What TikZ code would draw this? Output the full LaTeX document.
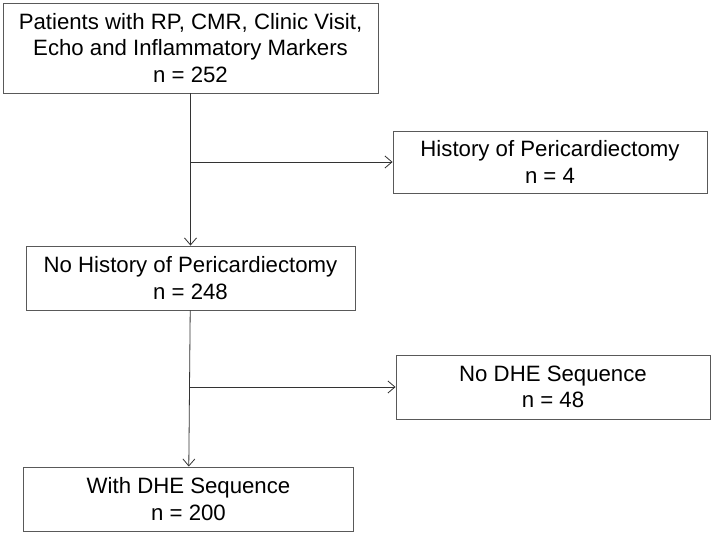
\documentclass[tikz,border=0pt]{standalone}
\usepackage{fontspec}
\setmainfont{Liberation Sans}
\usetikzlibrary{arrows.meta}

\begin{document}
\begin{tikzpicture}
[every node/.style={inner sep=0pt}, box/.style={rectangle, draw=black!65, line width=0.9pt, align=center, font=\fontsize{22.2pt}{26.6pt}\selectfont}, link/.style={line width=0.8pt, -{Straight Barb[length=7pt, width=12pt]}, color=black!80}]
\useasboundingbox (0pt, 0pt) rectangle (713pt, -534pt);
\node (patients) [box, minimum width=375pt, minimum height=90pt] at (190.5pt, -48pt) {Patients with RP, CMR, Clinic Visit,\\Echo and Inflammatory Markers\\n = 252};
\node (hist) [box, minimum width=314pt, minimum height=62pt] at (550.0pt, -162pt) {History of Pericardiectomy\\n = 4};
\node (nohist) [box, minimum width=329pt, minimum height=64pt] at (190.5pt, -278pt) {No History of Pericardiectomy\\n = 248};
\node (nodhe) [box, minimum width=314pt, minimum height=64pt] at (553.0pt, -387pt) {No DHE Sequence\\n = 48};
\node (withdhe) [box, minimum width=330pt, minimum height=64pt] at (188.5pt, -499pt) {With DHE Sequence\\n = 200};
\coordinate (split1) at (190.5pt, -162pt);
\coordinate (split2) at (190.0pt, -387pt);
\draw [link] (patients) -- (nohist);
\draw [link] (split1) -- (hist);
\draw [link] (nohist) -- (withdhe);
\draw [link] (split2) -- (nodhe);
\end{tikzpicture}
\end{document}
